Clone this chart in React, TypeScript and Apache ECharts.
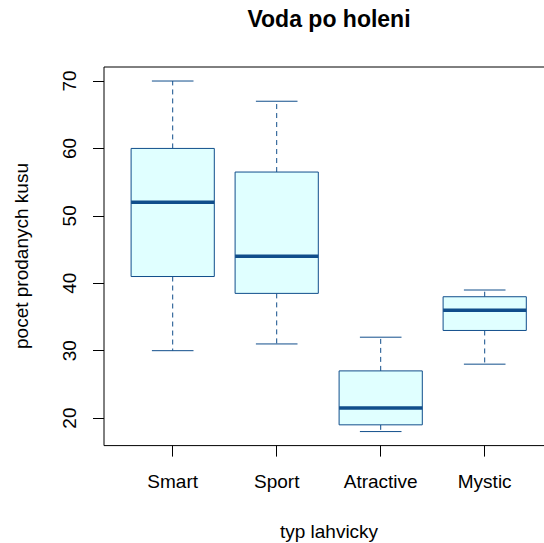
import React, { useEffect, useRef } from "react";
import * as echarts from "echarts";

const categories = ["Smart", "Sport", "Atractive", "Mystic"];
const whiskerLow = [30, 31, 18, 28];
const lowerQuartile = [41, 38.5, 19, 33];
const medians = [52, 44, 21.5, 36];
const upperQuartile = [60, 56.5, 27, 38];
const whiskerHigh = [70, 67, 32, 39];
const yTicks = [20, 30, 40, 50, 60, 70];

const FONT = "'Liberation Sans', Arial, Helvetica, sans-serif";
const BLUE = "#104E8B";
const FILL = "#E0FFFF";

export default function App() {
  const ref = useRef<HTMLDivElement>(null);
  useEffect(() => {
    if (!ref.current) return;
    const chart = echarts.init(ref.current, null, { renderer: "svg" });
    const data = categories.map((_, i) => [
      i,
      whiskerLow[i],
      lowerQuartile[i],
      medians[i],
      upperQuartile[i],
      whiskerHigh[i],
    ]);
    const plotLeft = 104;
    const plotTop = 67;
    const plotBottom = 445.6;
    const gridLeft = 120.7;
    const gridRight = 7.3;

    chart.setOption({
      animation: false,
      backgroundColor: "#ffffff",
      grid: { left: gridLeft, right: gridRight, top: plotTop, bottom: 543 - plotBottom, containLabel: false },
      xAxis: {
        type: "category",
        data: categories,
        axisLine: { show: false },
        axisTick: { show: true, alignWithLabel: true, length: 11, lineStyle: { color: "#000", width: 1 } },
        axisLabel: { color: "#000", fontFamily: FONT, fontSize: 19, margin: 26 },
        splitLine: { show: false },
      },
      yAxis: {
        type: "value",
        min: 15.92,
        max: 72.08,
        offset: gridLeft - plotLeft,
        axisLine: { show: false },
        axisTick: { show: true, length: 11, inside: false, customValues: yTicks, lineStyle: { color: "#000", width: 1 } },
        axisLabel: { color: "#000", fontFamily: FONT, fontSize: 19, rotate: 90, margin: 25, customValues: yTicks },
        splitLine: { show: false },
      },
      graphic: [
        {
          type: "rect",
          shape: { x: plotLeft, y: plotTop, width: 449, height: plotBottom - plotTop },
          style: { fill: "none", stroke: "#000", lineWidth: 1 },
          z: 10,
        },
        {
          type: "text",
          x: 329,
          y: 19,
          style: { text: "Voda po holeni", font: `bold 23px ${FONT}`, fill: "#000", textAlign: "center", textVerticalAlign: "middle" },
        },
        {
          type: "text",
          x: 329,
          y: 531,
          style: { text: "typ lahvicky", font: `19px ${FONT}`, fill: "#000", textAlign: "center", textVerticalAlign: "middle" },
        },
        {
          type: "text",
          x: 21,
          y: 256,
          rotation: Math.PI / 2,
          style: { text: "pocet prodanych kusu", font: `19px ${FONT}`, fill: "#000", textAlign: "center", textVerticalAlign: "middle" },
        },
      ],
      series: [
        {
          type: "custom",
          data,
          encode: { x: 0, y: [1, 2, 3, 4, 5] },
          renderItem: (params: any, api: any) => {
            const idx = api.value(0);
            const band = api.size([1, 0])[0];
            const boxW = band * 0.8;
            const capW = boxW / 2;
            const pLow = api.coord([idx, api.value(1)]);
            const pQ1 = api.coord([idx, api.value(2)]);
            const pMed = api.coord([idx, api.value(3)]);
            const pQ3 = api.coord([idx, api.value(4)]);
            const pHigh = api.coord([idx, api.value(5)]);
            const cx = pMed[0];
            const line = (x1: number, y1: number, x2: number, y2: number, w: number, dash?: number[]) => ({
              type: "line",
              shape: { x1, y1, x2, y2 },
              style: { stroke: BLUE, lineWidth: w, lineDash: dash, fill: null },
            });
            return {
              type: "group",
              children: [
                line(cx, pQ1[1], cx, pLow[1], 1, [5, 4]),
                line(cx, pQ3[1], cx, pHigh[1], 1, [5, 4]),
                line(cx - capW / 2, pLow[1], cx + capW / 2, pLow[1], 1),
                line(cx - capW / 2, pHigh[1], cx + capW / 2, pHigh[1], 1),
                {
                  type: "rect",
                  shape: { x: cx - boxW / 2, y: pQ3[1], width: boxW, height: pQ1[1] - pQ3[1] },
                  style: { fill: FILL, stroke: BLUE, lineWidth: 1 },
                },
                line(cx - boxW / 2, pMed[1], cx + boxW / 2, pMed[1], 3.5),
              ],
            };
          },
        },
      ],
    });
    return () => chart.dispose();
  }, []);
  return <div ref={ref} style={{ position: "fixed", left: 0, top: 0, width: 544, height: 543 }} />;
}
